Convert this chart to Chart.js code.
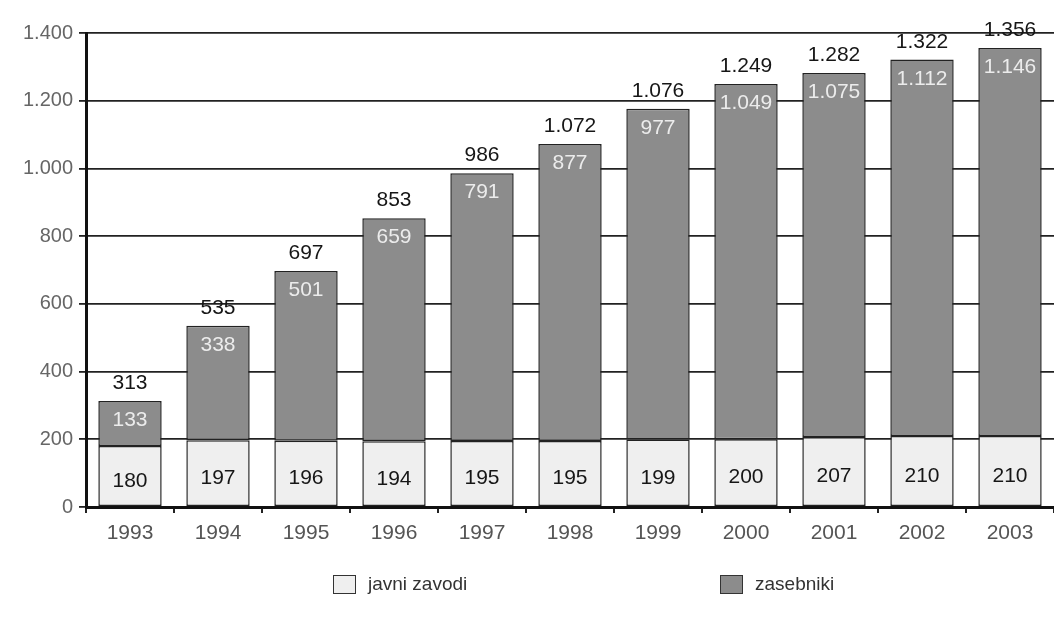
<!DOCTYPE html>
<html>
<head>
<meta charset="utf-8">
<script src="https://cdn.jsdelivr.net/npm/chart.js@4.4.1/dist/chart.umd.min.js"></script>
<style>
html,body{margin:0;padding:0;background:#fff;overflow:hidden;}
#wrap{position:relative;width:1054px;height:627px;}
canvas{position:absolute;left:0;top:0;}
.leg{position:absolute;top:573px;font-family:"Liberation Sans Narrow","Liberation Sans",Arial,sans-serif;font-size:19px;color:#333;display:flex;align-items:center;}
.box{width:21px;height:17px;border:1.5px solid #333;margin-right:12px;}
</style>
</head>
<body>
<div id="wrap">
<canvas id="c" width="1054" height="627"></canvas>
<div class="leg" style="left:333px"><div class="box" style="background:#efefef"></div>javni zavodi</div>
<div class="leg" style="left:720px"><div class="box" style="background:#8c8c8c"></div>zasebniki</div>
</div>
<script>
const years = ["1993","1994","1995","1996","1997","1998","1999","2000","2001","2002","2003"];
const javniZavodi = [180,197,196,194,195,195,199,200,207,210,210];
const zasebniki = [133,338,501,659,791,877,977,1049,1075,1112,1146];
const totals = [313,535,697,853,986,1072,1076,1249,1282,1322,1356];
const yTicks = [0,200,400,600,800,1000,1200,1400];

function fmt(v){ return String(v).replace(/\B(?=(\d{3})+(?!\d))/g, "."); }

const labelPlugin = {
  id:'labels',
  afterDatasetsDraw(chart){
    const ctx = chart.ctx;
    const m0 = chart.getDatasetMeta(0), m1 = chart.getDatasetMeta(1);
    ctx.save();
    ctx.textAlign = 'center';
    ctx.font = '21px "Liberation Sans", Arial, sans-serif';
    for (let i=0;i<years.length;i++){
      const b0 = m0.data[i], b1 = m1.data[i];
      ctx.fillStyle = '#161616';
      ctx.textBaseline = 'middle';
      ctx.fillText(fmt(javniZavodi[i]), b0.x, (b0.y + b0.base)/2 + 5);
      ctx.fillStyle = '#ececec';
      ctx.textBaseline = 'top';
      ctx.fillText(fmt(zasebniki[i]), b1.x, b1.y + 9);
      ctx.fillStyle = '#161616';
      ctx.textBaseline = 'bottom';
      ctx.fillText(fmt(totals[i]), b1.x, b1.y - 7);
    }
    ctx.restore();
  }
};

new Chart(document.getElementById('c'), {
  type:'bar',
  data:{
    labels: years,
    datasets:[
      {label:'javni zavodi', data: javniZavodi, backgroundColor:'#efefef', borderColor:'#222', borderWidth:1.5, borderSkipped:false},
      {label:'zasebniki', data: zasebniki, backgroundColor:'#8c8c8c', borderColor:'#222', borderWidth:1.5, borderSkipped:false}
    ]
  },
  options:{
    responsive:false,
    animation:false,
    layout:{padding:{top:33,bottom:78,left:0,right:0}},
    plugins:{legend:{display:false}, tooltip:{enabled:false}},
    datasets:{bar:{barPercentage:0.72, categoryPercentage:1}},
    scales:{
      x:{
        stacked:true,
        afterFit(s){ s.height = 42; },
        grid:{offset:true, drawOnChartArea:false, drawTicks:true, tickLength:6, color:'#222', lineWidth:2},
        border:{color:'#111', width:3},
        ticks:{color:'#555', padding:8, font:{family:'"Liberation Sans", Arial, sans-serif', size:21}}
      },
      y:{
        stacked:true,
        min:0, max:1400,
        afterFit(s){ s.width = 86; },
        afterBuildTicks(s){ s.ticks = yTicks.map(v=>({value:v})); },
        grid:{color:'#222', lineWidth:1.8, tickLength:7, drawTicks:true},
        border:{color:'#111', width:3},
        ticks:{color:'#666', padding:6, font:{family:'"Liberation Sans", Arial, sans-serif', size:20}, callback:(v)=>fmt(v)}
      }
    }
  },
  plugins:[labelPlugin]
});
</script>
</body>
</html>
